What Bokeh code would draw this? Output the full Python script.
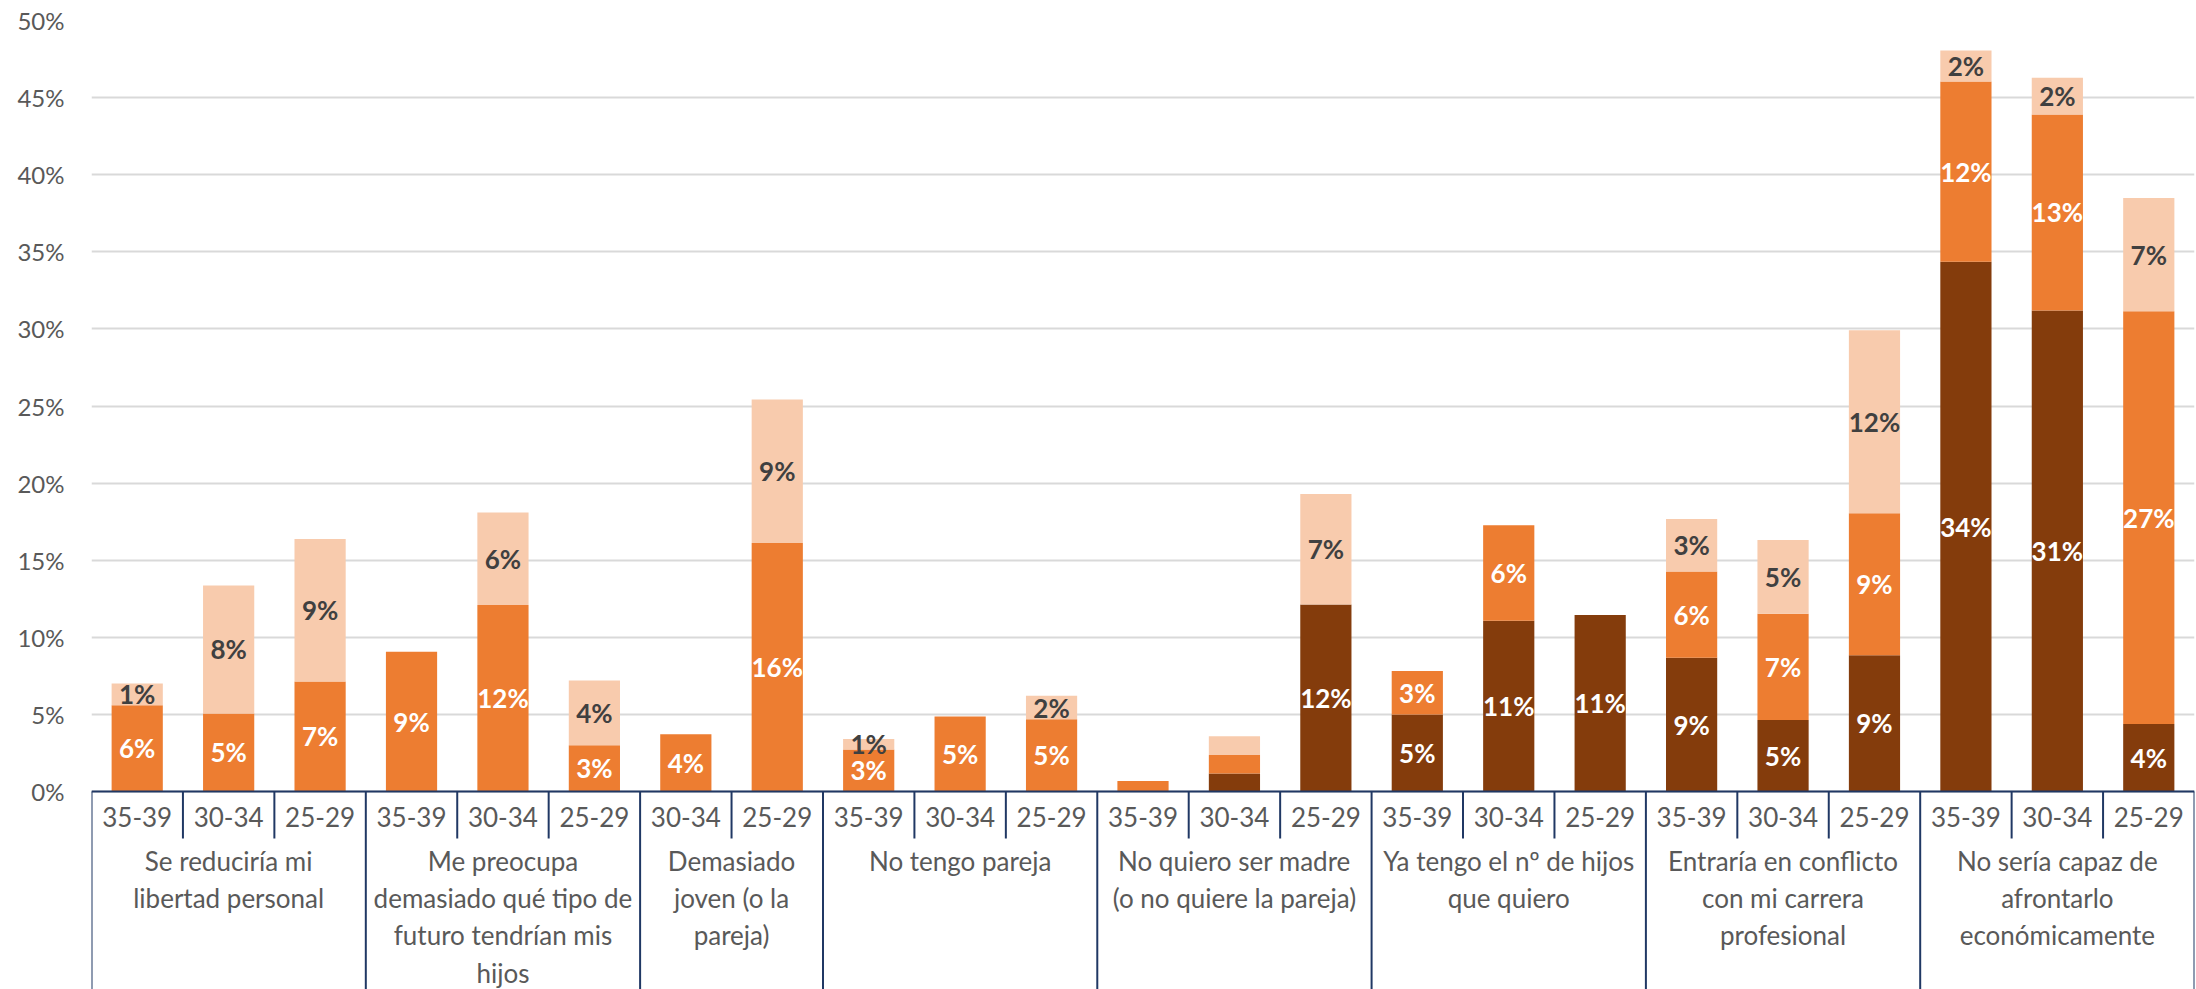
import numpy as np
from bokeh.plotting import figure
from bokeh.models import (FactorRange, Range1d, ColumnDataSource, FixedTicker,
                          PrintfTickFormatter)
from bokeh.core.properties import value
from bokeh.embed import file_html
from bokeh.resources import INLINE

# ---------------- data ----------------
groups = [
    "Se reducir\u00eda mi\nlibertad personal",
    "Me preocupa\ndemasiado qu\u00e9 tipo de\nfuturo tendr\u00edan mis\nhijos",
    "Demasiado\njoven (o la\npareja)",
    "No tengo pareja",
    "No quiero ser madre\n(o no quiere la pareja)",
    "Ya tengo el n\u00ba de hijos\nque quiero",
    "Entrar\u00eda en conflicto\ncon mi carrera\nprofesional",
    "No ser\u00eda capaz de\nafrontarlo\necon\u00f3micamente",
]
group_ages = [
    ["35-39", "30-34", "25-29"],
    ["35-39", "30-34", "25-29"],
    ["30-34", "25-29"],
    ["35-39", "30-34", "25-29"],
    ["35-39", "30-34", "25-29"],
    ["35-39", "30-34", "25-29"],
    ["35-39", "30-34", "25-29"],
    ["35-39", "30-34", "25-29"],
]
# three stacked series (bottom -> top), percent values
dark = [0, 0, 0, 0, 0, 0, 0, 0, 0, 0, 0,
        0, 1.17, 12.12, 4.99, 11.08, 11.45,
        8.67, 4.63, 8.84, 34.36, 31.2, 4.38]
mid = [5.6, 5.06, 7.14, 9.07, 12.1, 3.0, 3.72, 16.12, 2.73, 4.87, 4.68,
       0.68, 1.19, 0, 2.83, 6.19, 0,
       5.6, 6.89, 9.2, 11.69, 12.71, 26.77]
light = [1.4, 8.3, 9.23, 0, 6.0, 4.2, 0, 9.3, 0.68, 0, 1.53,
         0, 1.22, 7.17, 0, 0, 0,
         3.4, 4.79, 11.88, 2.01, 2.38, 7.34]
# bars whose segments carry value labels
labeled = [True] * 11 + [False, False] + [True] * 10

# ---------------- style ----------------
C_DARK, C_MID, C_LIGHT = "#843C0C", "#ED7D31", "#F8CBAD"
NAVY = "#203864"
TXT = "#595959"
FONT = "Lato"

W, H = 2196, 989
TOP, LEFT, RIGHT = 20, 91, 2
PX_PER_UNIT = (791 - 20) / 50.0
frame_h = H - TOP
y_start = 50 - frame_h / PX_PER_UNIT

factors = [(g, a) for g, ages in zip(groups, group_ages) for a in ages]

p = figure(width=W, height=H,
           x_range=FactorRange(factors=factors, range_padding=0, factor_padding=0,
                               subgroup_padding=0, group_padding=0),
           y_range=Range1d(y_start, 50),
           output_backend="svg", toolbar_location=None,
           min_border_top=TOP, min_border_left=LEFT, min_border_right=RIGHT,
           min_border_bottom=0)
p.outline_line_color = None
p.background_fill_color = "white"
p.border_fill_color = "white"

src = ColumnDataSource(dict(x=factors, dark=dark, mid=mid, light=light))
p.vbar_stack(["dark", "mid", "light"], x="x", width=0.56, source=src,
             color=[C_DARK, C_MID, C_LIGHT], line_color=None)

# value labels at segment centres
d = np.array(dark, float)
m = np.array(mid, float)
l = np.array(light, float)
lab_x, lab_y, lab_t, lab_c = [], [], [], []
for vals, base, col in [(d, 0 * d, "white"), (m, d, "white"), (l, d + m, "#404040")]:
    for i, v in enumerate(vals):
        if v > 0 and labeled[i]:
            lab_x.append(factors[i])
            lab_y.append(base[i] + v / 2)
            lab_t.append(f"{v:.0f}%")
            lab_c.append(col)
p.text(x="x", y="y", text="t", text_color="c",
       source=ColumnDataSource(dict(x=lab_x, y=lab_y, t=lab_t, c=lab_c)),
       text_font=value(FONT), text_font_style="bold", text_font_size="26px",
       text_align="center", text_baseline="middle")

# y axis and grid
ya = p.yaxis[0]
ya.ticker = FixedTicker(ticks=list(range(0, 51, 5)))
ya.formatter = PrintfTickFormatter(format="%d%%")
ya.axis_line_color = None
ya.major_tick_line_color = None
ya.minor_tick_line_color = None
ya.major_tick_out = 0
ya.major_label_standoff = 27
ya.major_label_text_font = FONT
ya.major_label_text_font_size = "24px"
ya.major_label_text_color = TXT
p.ygrid.grid_line_color = "#D9D9D9"
p.ygrid.grid_line_width = 2
p.xgrid.visible = False

# category axis at 0
xa = p.xaxis[0]
xa.fixed_location = 0
xa.axis_line_color = NAVY
xa.axis_line_width = 2
xa.major_tick_line_color = None
xa.minor_tick_line_color = None
xa.major_tick_out = 0
xa.major_label_standoff = 15
xa.major_label_text_font = FONT
xa.major_label_text_font_size = "26px"
xa.major_label_text_color = TXT
xa.group_text_font = FONT
xa.group_text_font_size = "26px"
xa.group_text_font_style = "normal"
xa.group_text_color = TXT
xa.group_text_line_height = 1.17
xa.separator_line_color = None

# box lines of the category axis (bar and group boundaries)
counts = [len(a) for a in group_ages]
group_bounds = np.concatenate([[0], np.cumsum(counts)])
all_bounds = np.arange(len(factors) + 1)
short_bounds = [b for b in all_bounds if b not in set(group_bounds)]
short_len = -47 / PX_PER_UNIT
p.segment(x0=short_bounds, x1=short_bounds, y0=[0] * len(short_bounds),
          y1=[short_len] * len(short_bounds), line_color=NAVY, line_width=2)
p.segment(x0=list(group_bounds), x1=list(group_bounds), y0=[0] * len(group_bounds),
          y1=[y_start] * len(group_bounds), line_color=NAVY, line_width=2)

open("out.html", "w").write(file_html(p, INLINE))
